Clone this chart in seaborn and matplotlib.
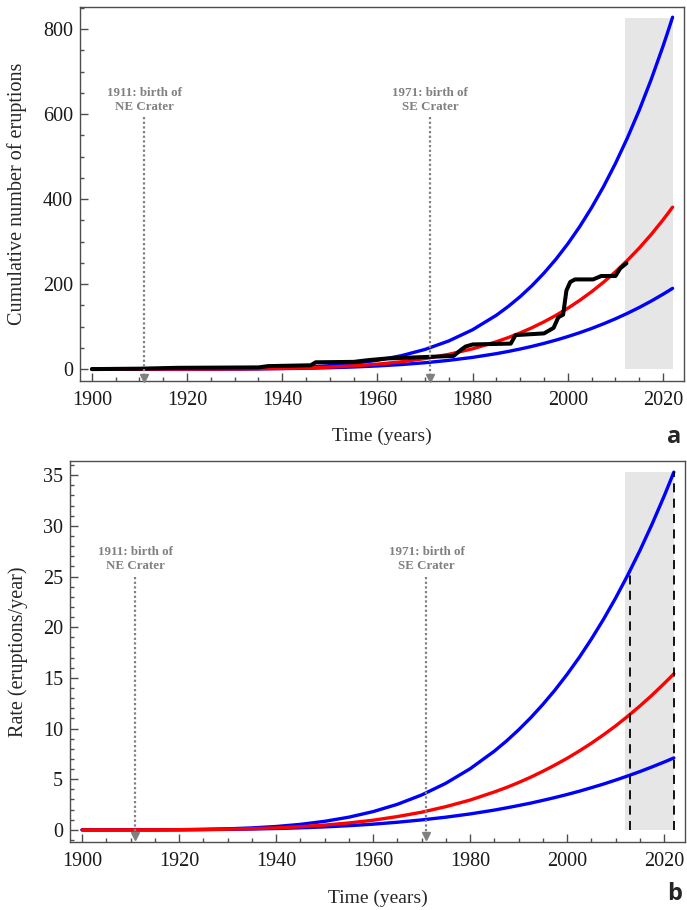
import matplotlib
matplotlib.use("Agg")
import matplotlib.pyplot as plt
from matplotlib.ticker import MultipleLocator
import numpy as np
import pandas as pd
import seaborn as sns

# ---------------- data ----------------
years = [1900, 1905, 1910, 1915, 1920, 1925, 1930, 1935, 1940, 1945, 1950, 1955,
         1960, 1965, 1970, 1975, 1980, 1985, 1987.5, 1990, 1992.5, 1995, 1997.5,
         2000, 2002.5, 2005, 2007.5, 2010, 2012.5, 2015, 2017.5, 2020, 2021, 2022]

cum_upper = [0, 0, 0, 0.02, 0.07, 0.22, 0.57, 1.3, 2.5, 4.7, 8.1, 13.2, 20.8, 31.5,
             46.3, 66.3, 92.7, 126.9, 147.6, 170.7, 196.8, 226.1, 258.7, 295.0, 335.4,
             380.1, 429.5, 483.9, 543.8, 609.3, 681.3, 760.0, 793.5, 828]
cum_mid = [0, 0, 0, 0.01, 0.05, 0.16, 0.38, 0.82, 1.58, 2.82, 4.73, 7.56, 11.6, 17.2,
           24.8, 34.8, 47.8, 64.4, 74.3, 85.3, 97.6, 111.3, 126.5, 143.3, 161.8,
           182.2, 204.5, 229.0, 255.8, 284.9, 316.6, 351.3, 366.0, 381]
cum_lower = [0, 0, 0, 0.01, 0.05, 0.14, 0.31, 0.63, 1.16, 1.99, 3.22, 4.98, 7.42, 10.7,
             15.0, 20.6, 27.6, 36.4, 41.6, 47.3, 53.6, 60.6, 68.2, 76.6, 85.7, 95.7,
             106.6, 118.4, 131.2, 145.0, 160.0, 176.2, 183.0, 190]

rate_upper = [0, 0, 0.001, 0.005, 0.018, 0.046, 0.099, 0.19, 0.33, 0.54, 0.84, 1.25,
              1.80, 2.52, 3.44, 4.60, 6.03, 7.77, 8.77, 9.87, 11.07, 12.38, 13.80,
              15.35, 17.02, 18.83, 20.78, 22.88, 25.14, 27.56, 30.16, 32.94, 34.11, 35.3]
rate_mid = [0, 0, 0.001, 0.004, 0.013, 0.031, 0.063, 0.115, 0.195, 0.31, 0.47, 0.68,
            0.95, 1.31, 1.74, 2.29, 2.94, 3.74, 4.18, 4.67, 5.20, 5.78, 6.40, 7.06,
            7.78, 8.55, 9.38, 10.26, 11.21, 12.22, 13.29, 14.44, 14.91, 15.4]
rate_lower = [0, 0, 0.001, 0.004, 0.011, 0.025, 0.047, 0.082, 0.13, 0.20, 0.29, 0.41,
              0.56, 0.75, 0.98, 1.25, 1.57, 1.95, 2.17, 2.40, 2.64, 2.91, 3.19, 3.49,
              3.81, 4.16, 4.52, 4.91, 5.32, 5.75, 6.21, 6.69, 6.89, 7.1]

obs_years = [1900, 1910, 1918, 1935, 1937, 1946, 1947, 1955, 1958, 1962, 1969, 1976,
             1977.5, 1978.5, 1980, 1988, 1989, 1995, 1997, 1998, 1999, 1999.7, 2000.5,
             2001.5, 2005.3, 2007, 2010, 2011, 2012.3]
obs_cum = [0, 1, 3, 4, 7, 9, 16, 17, 21, 25, 28, 31, 45, 53, 58, 60, 80, 84, 97, 122,
           128, 185, 205, 211, 211, 219, 219, 237, 249]

forecast_window = [2012, 2022]
span_top_cum = 825
span_top_rate = 35.3
dashed_years = [2013, 2022]
dashed_tops = [25.6, 35.3]

events = [1911, 1971]
event_labels = ["1911: birth of\nNE Crater", "1971: birth of\nSE Crater"]

# ---------------- style ----------------
sns.set_theme(style="white")
plt.rcParams["font.family"] = ["Liberation Serif", "DejaVu Serif"]
plt.rcParams["axes.edgecolor"] = "#4d4d4d"
plt.rcParams["axes.linewidth"] = 1.0

def long_df(vals_dict):
    frames = []
    for name, vals in vals_dict.items():
        frames.append(pd.DataFrame({"year": years, "value": vals, "curve": name}))
    return pd.concat(frames, ignore_index=True)

palette = {"upper": "#0000ff", "mid": "#ff0000", "lower": "#0000ff"}
LW = 2.4

fig = plt.figure(figsize=(6.87, 9.10), dpi=100)
ax1 = fig.add_axes([80 / 687, 1 - 381 / 910, 604 / 687, 374 / 910])
ax2 = fig.add_axes([70 / 687, 1 - 842 / 910, 615 / 687, 381 / 910])

def style_axes(ax, xlim, ylim, ymaj, ymin):
    ax.set_xlim(*xlim)
    ax.set_ylim(*ylim)
    ax.xaxis.set_major_locator(MultipleLocator(20))
    ax.xaxis.set_minor_locator(MultipleLocator(5))
    ax.yaxis.set_major_locator(MultipleLocator(ymaj))
    ax.yaxis.set_minor_locator(MultipleLocator(ymin))
    ax.tick_params(which="both", direction="in", colors="#4d4d4d", width=1.0,
                   labelcolor="#1a1a1a", labelsize=14.5, top=False, right=False,
                   bottom=True, left=True)
    ax.tick_params(which="major", length=5.5)
    ax.tick_params(which="minor", length=3)
    ax.tick_params(axis="x", which="major", pad=7)
    ax.tick_params(axis="y", which="major", pad=5)
    for s in ax.spines.values():
        s.set_visible(True)
        s.set_color("#4d4d4d")

def draw_events(ax, text_y, line_top, tip, fs=9.4):
    for x, lab in zip(events, event_labels):
        ax.text(x, text_y, lab, ha="center", va="center", fontsize=fs,
                fontweight="bold", color="#808080", linespacing=1.2, zorder=6)
        ax.plot([x, x], [line_top, tip], color="#808080", lw=1.6,
                linestyle=(0, (1, 1.1)), zorder=6, solid_capstyle="butt")
        ax.plot([x], [tip], marker="v", ms=6, color="#808080", mec="#808080",
                zorder=6, clip_on=False)

# ---------------- panel a ----------------
ax1.fill_between(forecast_window, 0, span_top_cum, color="#e6e6e6", lw=0, zorder=0)
cdf = long_df({"upper": cum_upper, "lower": cum_lower, "mid": cum_mid})
sns.lineplot(data=cdf, x="year", y="value", hue="curve", palette=palette,
             hue_order=["upper", "lower", "mid"], lw=LW, legend=False, ax=ax1,
             zorder=3)
sns.lineplot(x=obs_years, y=obs_cum, color="black", lw=2.9, ax=ax1, zorder=4,
             estimator=None)
style_axes(ax1, (1897.5, 2024.4), (-28, 852), 200, 50)
draw_events(ax1, 633, 593, -20)
ax1.set_xlabel("Time (years)", fontsize=14)
ax1.set_ylabel("Cumulative number of eruptions", fontsize=14.5)
ax1.xaxis.set_label_coords(0.5, -0.125)
ax1.yaxis.set_label_coords(-0.087, 0.5)

# ---------------- panel b ----------------
ax2.fill_between(forecast_window, 0, span_top_rate, color="#e6e6e6", lw=0, zorder=0)
rdf = long_df({"upper": rate_upper, "lower": rate_lower, "mid": rate_mid})
sns.lineplot(data=rdf, x="year", y="value", hue="curve", palette=palette,
             hue_order=["upper", "lower", "mid"], lw=LW, legend=False, ax=ax2,
             zorder=3)
ax2.vlines(dashed_years, 0, dashed_tops, colors="black", lw=1.3,
           linestyles=(0, (5, 3.5)), zorder=5)
style_axes(ax2, (1897.5, 2024.3), (-1.2, 36.4), 5, 1)
draw_events(ax2, 26.75, 25.0, -0.6)
ax2.set_xlabel("Time (years)", fontsize=14)
ax2.set_ylabel("Rate (eruptions/year)", fontsize=14.5)
ax2.xaxis.set_label_coords(0.5, -0.125)
ax2.yaxis.set_label_coords(-0.068, 0.5)

fig.text(674 / 687, 1 - 437 / 910, "a", ha="center", va="center", fontsize=17,
         fontweight="bold", family=["Open Sans", "DejaVu Sans"])
fig.text(675 / 687, 1 - 894 / 910, "b", ha="center", va="center", fontsize=17,
         fontweight="bold", family=["Open Sans", "DejaVu Sans"])

fig.savefig("out.png", dpi=100)
